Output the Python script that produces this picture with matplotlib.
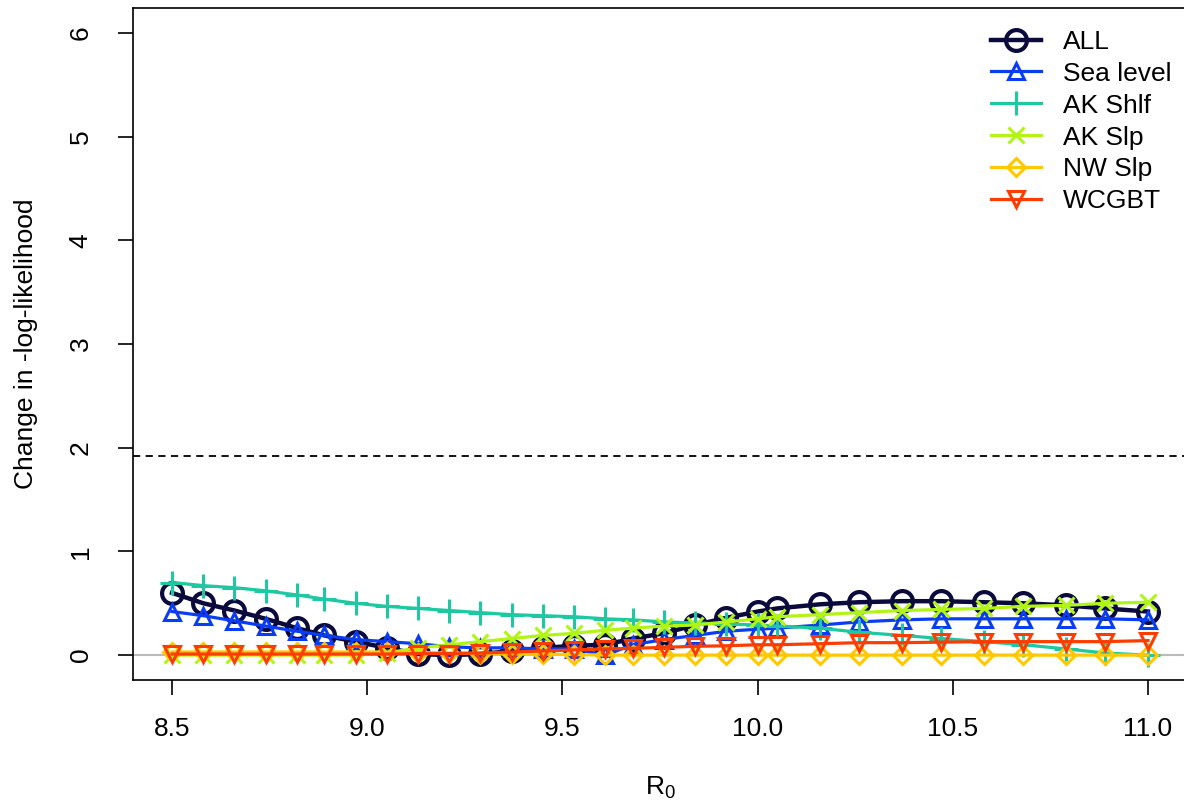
import matplotlib
matplotlib.use("Agg")
import matplotlib.pyplot as plt

plt.rcParams['font.family'] = ['Liberation Sans', 'DejaVu Sans']
plt.rcParams['mathtext.fontset'] = 'custom'
plt.rcParams['mathtext.rm'] = 'Liberation Sans'
plt.rcParams['mathtext.it'] = 'Liberation Sans'

# R0 values of the profile
r0 = [8.5, 8.58, 8.66, 8.74, 8.82, 8.89, 8.97, 9.05, 9.13, 9.21,
      9.29, 9.37, 9.45, 9.53, 9.61, 9.68, 9.76, 9.84, 9.92, 10.0,
      10.05, 10.16, 10.26, 10.37, 10.47, 10.58, 10.68, 10.79, 10.89, 11.0]

# change in -log-likelihood for each component
all_nll = [0.60, 0.50, 0.43, 0.35, 0.26, 0.19, 0.13, 0.07, 0.01, 0.0,
           0.01, 0.04, 0.07, 0.09, 0.10, 0.16, 0.21, 0.29, 0.36, 0.42,
           0.45, 0.49, 0.51, 0.52, 0.52, 0.51, 0.50, 0.48, 0.45, 0.42]
sea_level = [0.42, 0.38, 0.33, 0.28, 0.23, 0.19, 0.15, 0.13, 0.11, 0.08,
             0.07, 0.07, 0.06, 0.06, 0.0, 0.10, 0.15, 0.19, 0.23, 0.25,
             0.26, 0.29, 0.32, 0.34, 0.35, 0.35, 0.35, 0.35, 0.35, 0.34]
ak_shlf = [0.70, 0.67, 0.65, 0.62, 0.58, 0.54, 0.50, 0.47, 0.45, 0.43,
           0.41, 0.39, 0.38, 0.37, 0.35, 0.34, 0.32, 0.31, 0.30, 0.29,
           0.28, 0.26, 0.22, 0.19, 0.16, 0.13, 0.10, 0.06, 0.02, 0.0]
ak_slp = [0.0, 0.0, 0.0, 0.0, 0.0, 0.0, 0.0, 0.02, 0.07, 0.10,
          0.13, 0.16, 0.19, 0.21, 0.24, 0.26, 0.28, 0.29, 0.32, 0.35,
          0.37, 0.39, 0.41, 0.43, 0.44, 0.45, 0.47, 0.48, 0.50, 0.51]
nw_slp = [0.03, 0.03, 0.03, 0.03, 0.03, 0.03, 0.03, 0.03, 0.025, 0.02,
          0.015, 0.01, 0.01, 0.005, 0.0, 0.0, 0.0, 0.0, 0.0, 0.0,
          0.0, 0.0, 0.0, 0.0, 0.0, 0.0, 0.0, 0.0, 0.0, 0.0]
wcgbt = [0.01, 0.01, 0.01, 0.01, 0.01, 0.01, 0.01, 0.01, 0.015, 0.015,
         0.02, 0.03, 0.04, 0.05, 0.06, 0.065, 0.075, 0.085, 0.09, 0.10,
         0.10, 0.11, 0.12, 0.12, 0.125, 0.13, 0.13, 0.13, 0.13, 0.14]

labels = ['ALL', 'Sea level', 'AK Shlf', 'AK Slp', 'NW Slp', 'WCGBT']
colors = ['#0A0A3C', '#0A3CF5', '#1EC8A0', '#B0F514', '#FFC800', '#FF3C00']
markers = ['o', '^', '+', 'x', 'D', 'v']
series = [all_nll, sea_level, ak_shlf, ak_slp, nw_slp, wcgbt]

fig = plt.figure(figsize=(11.84, 8.06), dpi=100)
# box goes slightly past the right edge like the original
ax = fig.add_axes([133 / 1184, 126 / 806, 1054 / 1184, 672 / 806])

ax.axhline(0, color='#BBBBBB', lw=1.5, zorder=1)
ax.axhline(1.92, color='black', lw=1.3, ls=(0, (4, 3)), zorder=1)

sizes = {'o': 15, '^': 11, '+': 17, 'x': 11, 'D': 9, 'v': 11}
for i, (y, lab, col, mk) in enumerate(zip(series, labels, colors, markers)):
    lw = 3.2 if i == 0 else 2.3
    ax.plot(r0, y, color=col, lw=lw, marker=mk, ms=sizes[mk], mfc='none',
            mec=col, mew=3.0 if i == 0 else 2.2, label=lab, zorder=2 + i)

ax.set_xlim(8.4, 11.1)
ax.set_ylim(-0.24, 6.24)
ax.set_xticks([8.5, 9.0, 9.5, 10.0, 10.5, 11.0])
ax.set_xticklabels(['8.5', '9.0', '9.5', '10.0', '10.5', '11.0'])
ax.set_yticks([0, 1, 2, 3, 4, 5, 6])
ax.tick_params(labelsize=19, length=11, width=1.2)
ax.tick_params(axis='x', pad=16)
ax.tick_params(axis='y', pad=18)
for lab in ax.get_yticklabels():
    lab.set_rotation(90)
    lab.set_va('center')
for s in ax.spines.values():
    s.set_linewidth(1.2)

ax.set_xlabel(r'$\mathrm{R}_0$', fontsize=19, labelpad=24)
ax.set_ylabel('Change in -log-likelihood', fontsize=19, labelpad=22)

ax.legend(loc='upper left', bbox_to_anchor=(967 / 1184, 1 - 6 / 806),
          bbox_transform=fig.transFigure, frameon=False, fontsize=19,
          handlelength=1.9, labelspacing=0.3, handletextpad=0.85)

fig.savefig('out.png', dpi=100)
